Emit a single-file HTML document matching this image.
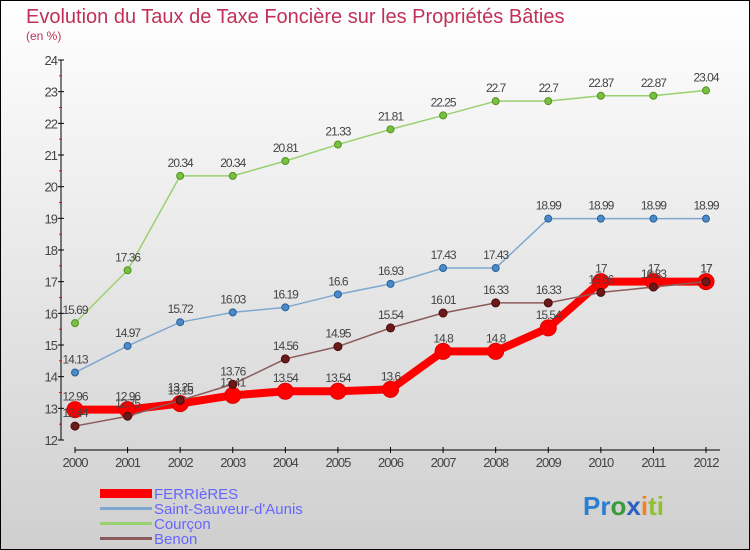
<!DOCTYPE html>
<html><head><meta charset="utf-8"><style>
body{margin:0;width:750px;height:550px;overflow:hidden}
svg{display:block;font-family:"Liberation Sans",sans-serif}
</style></head><body>
<svg width="750" height="550" viewBox="0 0 750 550">
<defs><linearGradient id="bg" x1="0" y1="0" x2="0" y2="1"><stop offset="0" stop-color="#ffffff"/><stop offset="1" stop-color="#cfcfcf"/></linearGradient></defs>
<rect x="0.5" y="0.5" width="749" height="549" fill="url(#bg)" stroke="#000"/>
<text x="26" y="23" font-size="20" fill="#c0305a">Evolution du Taux de Taxe Foncière sur les Propriétés Bâties</text>
<text x="26" y="40" font-size="12" fill="#c0305a">(en %)</text>
<g id="axes"></g>
<g id="series"></g>
<g>
<rect x="100" y="489" width="52" height="9" fill="#ff0000"/>
<text x="154" y="499" font-size="15" fill="#6666ff">FERRIèRES</text>
<rect x="100" y="507" width="52" height="3" fill="#7fa8d0"/>
<text x="154" y="514" font-size="15" fill="#6666ff">Saint-Sauveur-d'Aunis</text>
<rect x="100" y="522" width="52" height="3" fill="#99d070"/>
<text x="154" y="529" font-size="15" fill="#6666ff">Courçon</text>
<rect x="100" y="537" width="52" height="3" fill="#8b5a5a"/>
<text x="154" y="544" font-size="15" fill="#6666ff">Benon</text>
</g>
<text x="583" y="515" font-size="26" font-weight="bold"><tspan fill="#2a7fd0">Pr</tspan><tspan fill="#3a9a3a">o</tspan><tspan fill="#2a60c0">x</tspan><tspan fill="#f08020">i</tspan><tspan fill="#90c030">ti</tspan></text>
</svg>
<script>
const years=[2000,2001,2002,2003,2004,2005,2006,2007,2008,2009,2010,2011,2012];
const yTicks=[12,13,14,15,16,17,18,19,20,21,22,23,24];
const ferrieres=[12.96,12.96,13.15,13.41,13.54,13.54,13.6,14.8,14.8,15.54,17,17,17];
const saintSauveur=[14.13,14.97,15.72,16.03,16.19,16.6,16.93,17.43,17.43,18.99,18.99,18.99,18.99];
const courcon=[15.69,17.36,20.34,20.34,20.81,21.33,21.81,22.25,22.7,22.7,22.87,22.87,23.04];
const benon=[12.44,12.75,13.25,13.76,14.56,14.95,15.54,16.01,16.33,16.33,16.66,16.83,17];
const NS="http://www.w3.org/2000/svg";
const xs=i=>75+i*(706-75)/12;
const ys=v=>440-(v-12)*(380/12);
function mk(t,a,p){const e=document.createElementNS(NS,t);for(const k in a)e.setAttribute(k,a[k]);p.appendChild(e);return e;}
const ax=document.getElementById('axes');
let e=mk('line',{x1:61,y1:ys(24),x2:61,y2:ys(12),stroke:'#000'},ax);


yTicks.forEach(v=>{
 let t=mk('line',{x1:58,x2:64,y1:ys(v),y2:ys(v),stroke:'#000'},ax);
 
 
 if(v<24){let m=mk('line',{x1:59,x2:62,y1:ys(v+0.5),y2:ys(v+0.5),stroke:'#f00'},ax);
 
 }
 let l=mk('text',{x:57,y:ys(v)+5,'font-size':13,'text-anchor':'end',fill:'#444','letter-spacing':'-1'},ax);
 l.textContent=v;
 
 
});
e=mk('line',{x1:75,y1:450,x2:720,y2:450,stroke:'#000'},ax);


years.forEach((y,i)=>{
 let t=mk('line',{x1:xs(i),x2:xs(i),y1:447,y2:453,stroke:'#000'},ax);
 
 
 let l=mk('text',{x:xs(i),y:467,'font-size':13,'text-anchor':'middle',fill:'#444','letter-spacing':'-1'},ax);
 l.textContent=y;
 
 
});
const sg=document.getElementById('series');
function draw(vals,name,color,w,r,dot,dotStroke){
 const g=mk('g',{},sg);
 
 
 const pl=mk('polyline',{points:vals.map((v,i)=>xs(i)+','+ys(v)).join(' '),fill:'none',stroke:color,'stroke-width':w,'stroke-linejoin':'round'},g);
 
 
 vals.forEach((v,i)=>{
  const c=mk('circle',{cx:xs(i),cy:ys(v),r:r,fill:dot,stroke:dotStroke,'stroke-width':1},g);
  
  
  const t=mk('text',{x:xs(i),y:ys(v)-9,'font-size':12,'text-anchor':'middle',fill:'#444','letter-spacing':'-1'},g);
  t.textContent=v;
  
  
 });
}
draw(courcon,'courcon','#99d070',1.5,3.5,'#77c040','#559020');
draw(saintSauveur,'saint-sauveur','#7fa8d0',1.5,3.5,'#4a8ac8','#2a6098');
draw(ferrieres,'ferrieres','#ff0000',8,8,'#ff0000','#dd0000');
draw(benon,'benon','#8b5a5a',1.5,4,'#6b1a1a','#4a0a0a');
</script>
</body></html>
